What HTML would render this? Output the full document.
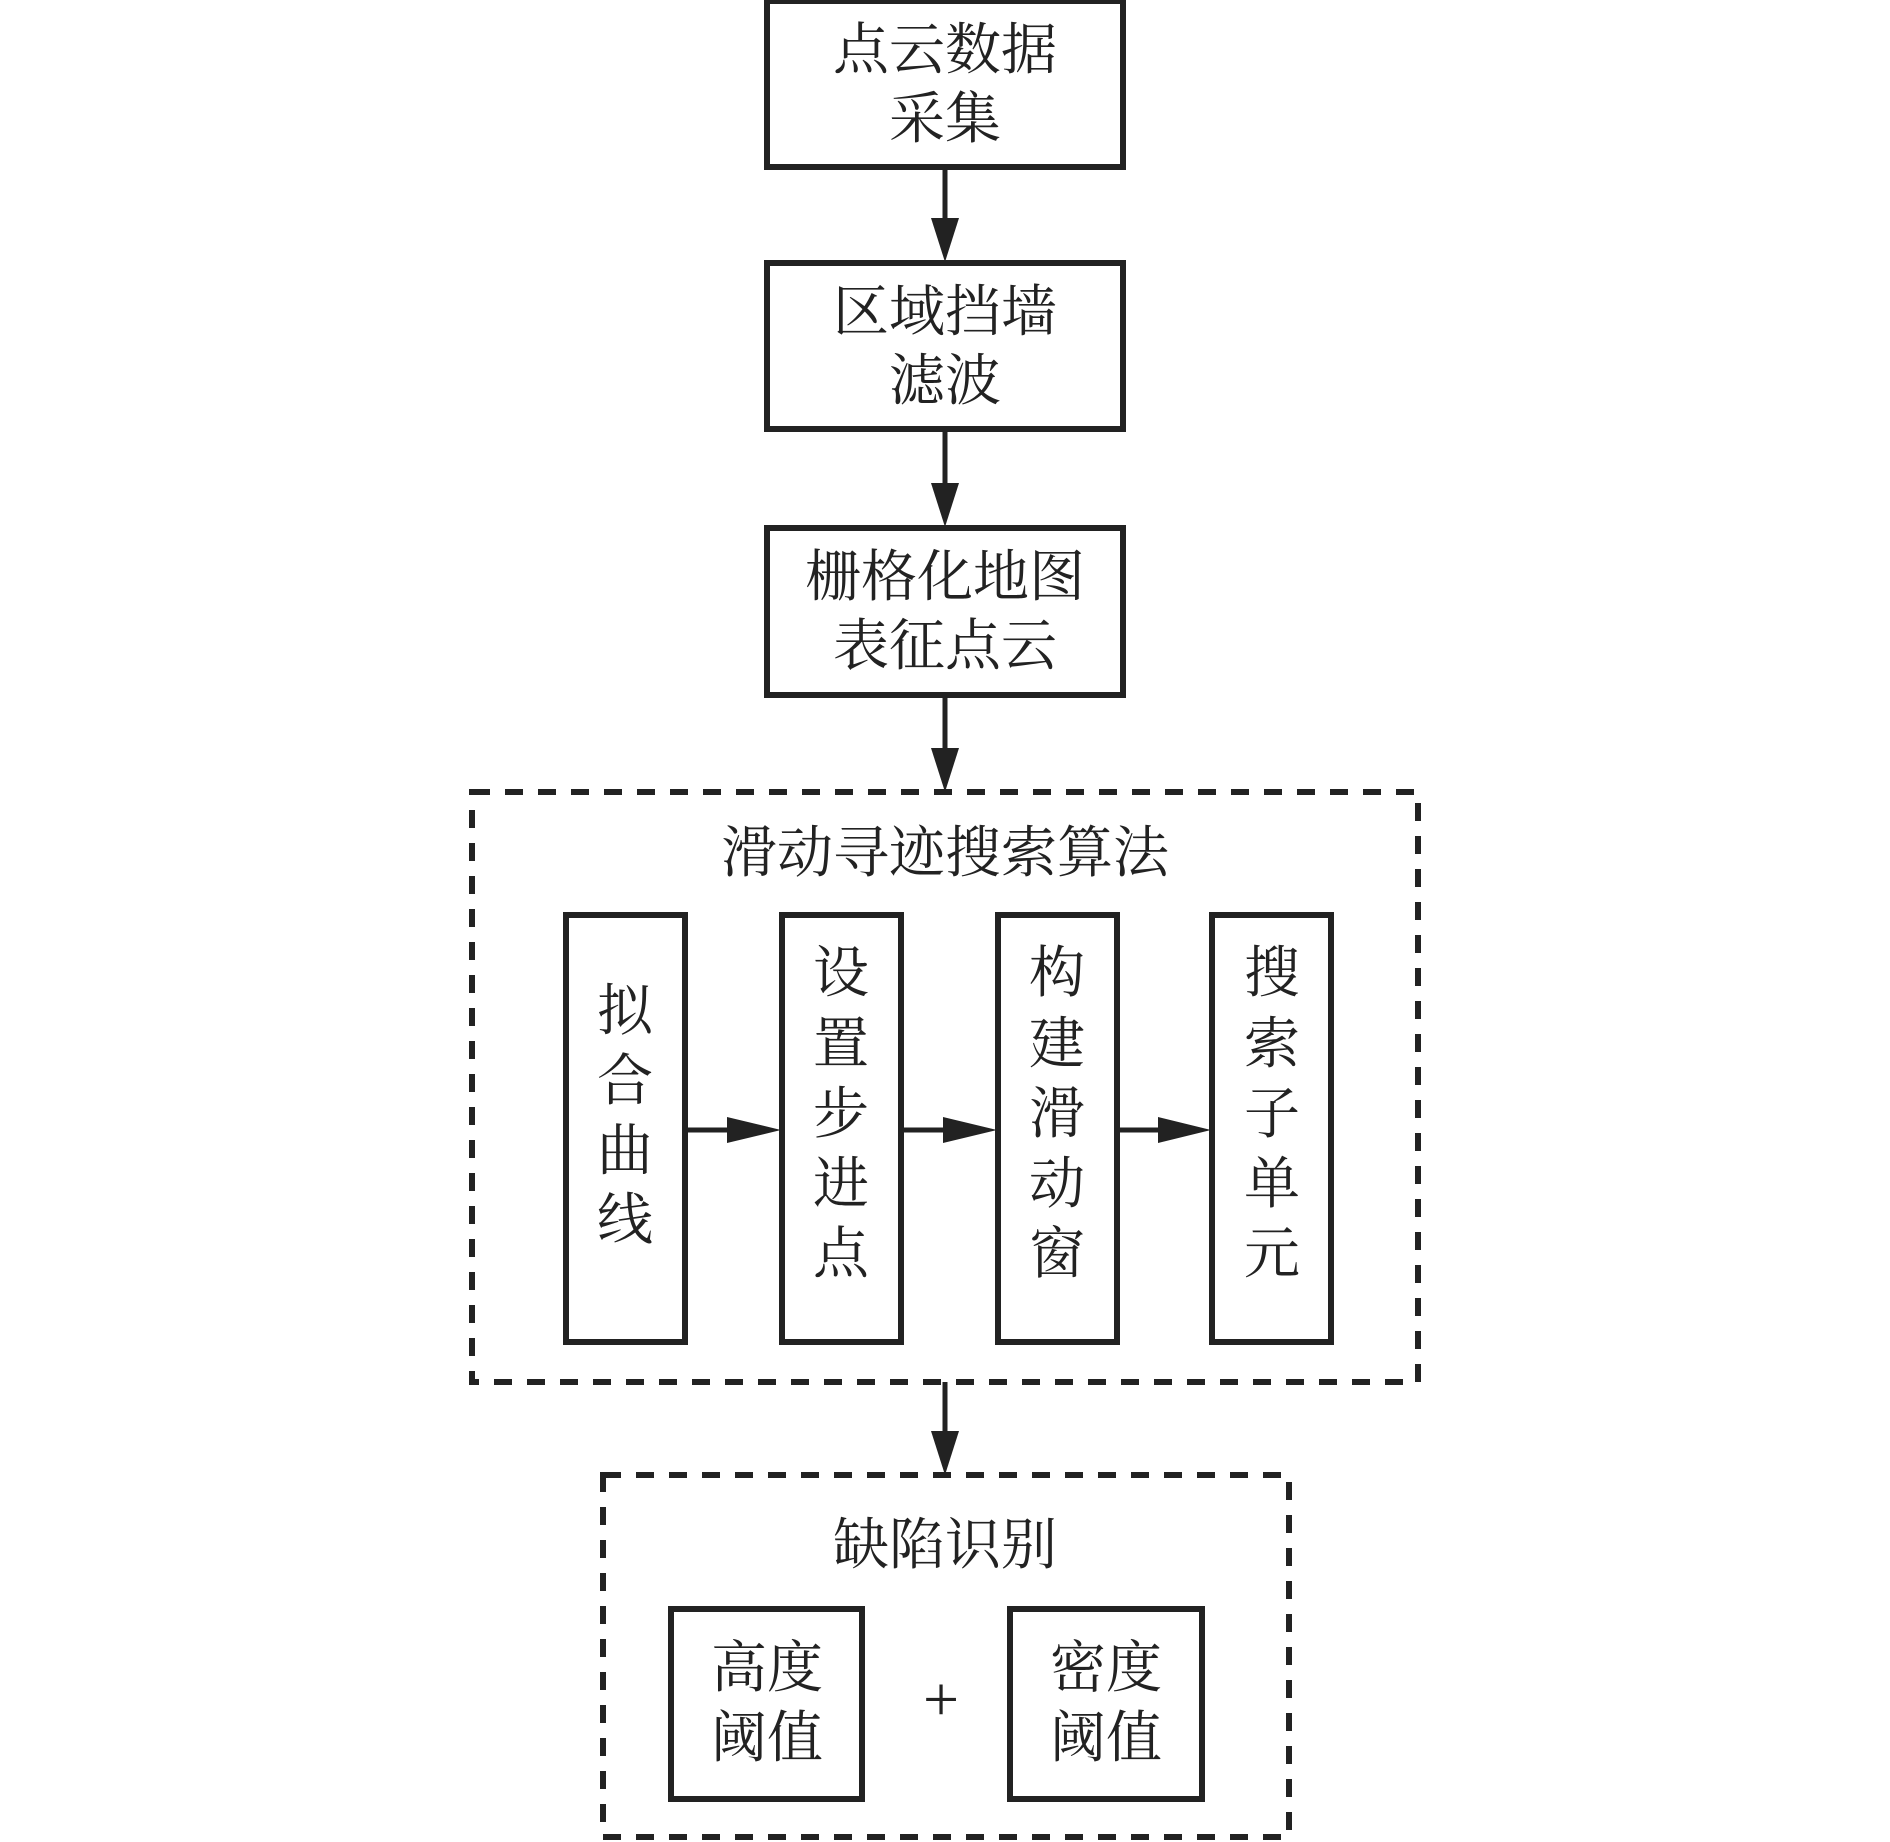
<!DOCTYPE html>
<html><head><meta charset="utf-8"><style>
html,body{margin:0;padding:0;background:#fff;}
svg{display:block;}
text{font-family:"Liberation Serif","Noto Serif CJK SC",serif;fill:#222;font-size:56px;text-anchor:middle;dominant-baseline:central;}
</style></head><body>
<svg width="1890" height="1842" viewBox="0 0 1890 1842" xmlns="http://www.w3.org/2000/svg">
<g transform="translate(-3,-3)">
<g fill="none" stroke="#222" stroke-width="6">
<rect x="770" y="4" width="356" height="166"/>
<rect x="770" y="266" width="356" height="166"/>
<rect x="770" y="531" width="356" height="167"/>
<rect x="569" y="918" width="119" height="427"/>
<rect x="785" y="918" width="119" height="427"/>
<rect x="1001" y="918" width="119" height="427"/>
<rect x="1215" y="918" width="119" height="427"/>
<rect x="674" y="1612" width="191" height="190"/>
<rect x="1013" y="1612" width="192" height="190"/>
</g>
<g fill="none" stroke="#222" stroke-width="6" stroke-dasharray="18 15">
<rect x="475" y="795" width="946" height="590"/>
<rect x="606" y="1478" width="686" height="362"/>
</g>
<g stroke="#222" stroke-width="5">
<line x1="948" y1="170" x2="948" y2="225"/>
<line x1="948" y1="432" x2="948" y2="490"/>
<line x1="948" y1="698" x2="948" y2="755"/>
<line x1="948" y1="1385" x2="948" y2="1440"/>
<line x1="689" y1="1133" x2="735" y2="1133"/>
<line x1="905" y1="1133" x2="950" y2="1133"/>
<line x1="1121" y1="1133" x2="1165" y2="1133"/>
</g>
<g fill="#222">
<polygon points="934,221 962,221 948,265"/>
<polygon points="934,486 962,486 948,530"/>
<polygon points="934,751 962,751 948,795"/>
<polygon points="934,1434 962,1434 948,1478"/>
<polygon points="730,1120 730,1146 784,1133"/>
<polygon points="946,1120 946,1146 1000,1133"/>
<polygon points="1161,1120 1161,1146 1214,1133"/>
</g>
<text x="948" y="54">点云数据</text>
<text x="948" y="123">采集</text>
<text x="948" y="316">区域挡墙</text>
<text x="948" y="385">滤波</text>
<text x="948" y="581">栅格化地图</text>
<text x="948" y="650">表征点云</text>
<text x="948" y="857">滑动寻迹搜索算法</text>
<text x="628" y="1015">拟</text><text x="628" y="1085">合</text><text x="628" y="1155">曲</text><text x="628" y="1224">线</text>
<text x="844" y="977">设</text><text x="844" y="1048">置</text><text x="844" y="1118">步</text><text x="844" y="1188">进</text><text x="844" y="1258">点</text>
<text x="1060" y="977">构</text><text x="1060" y="1048">建</text><text x="1060" y="1118">滑</text><text x="1060" y="1188">动</text><text x="1060" y="1258">窗</text>
<text x="1275" y="977">搜</text><text x="1275" y="1048">索</text><text x="1275" y="1118">子</text><text x="1275" y="1188">单</text><text x="1275" y="1258">元</text>
<text x="948" y="1549">缺陷识别</text>
<text x="770" y="1672">高度</text><text x="770" y="1742">阈值</text>
<text x="1109" y="1672">密度</text><text x="1109" y="1742">阈值</text>
<text x="944" y="1702" style="font-size:64px">+</text>
</g>
</svg>
</body></html>
